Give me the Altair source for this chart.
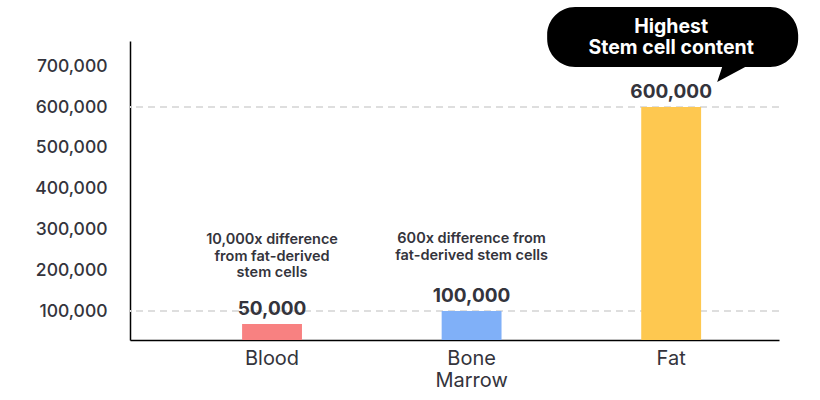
import altair as alt
import pandas as pd

categories = ["Blood", "Bone Marrow", "Fat"]
bar_values = [68000, 100000, 600000]
value_labels = ["50,000", "100,000", "600,000"]
bar_colors = ["#F88181", "#80B0F8", "#FEC850"]
y_ticks = [100000, 200000, 300000, 400000, 500000, 600000, 700000]
grid_values = [100000, 600000]
note_blood = ["10,000x difference", "from fat-derived", "stem cells"]
note_marrow = ["600x difference from", "fat-derived stem cells"]
bubble_text = ["Highest", "Stem cell content"]

df = pd.DataFrame({"cat": categories, "value": bar_values, "label": value_labels})
grid_df = pd.DataFrame({"value": grid_values})

FONT = "Inter"
TXT = "#34343c"

x = alt.X(
    "cat:N", sort=categories,
    scale=alt.Scale(paddingInner=0.7, paddingOuter=0.476, align=0.59),
    axis=alt.Axis(title=None, labelAngle=0, labelFontSize=20, labelFont=FONT,
                  labelColor=TXT, labelPadding=8, labelLineHeight=22, ticks=False,
                  domainColor="black", domainWidth=1.5,
                  labelExpr="split(datum.label, ' ')"),
)
y = alt.Y(
    "value:Q",
    scale=alt.Scale(domain=[29000, 762000], zero=False, nice=False),
    axis=alt.Axis(title=None, values=y_ticks, labelExpr="format(datum.value, ',')",
                  labelFontSize=17.5, labelFontWeight=500, labelFont=FONT,
                  labelColor=TXT, labelPadding=23,
                  ticks=False, grid=False, domainColor="black", domainWidth=1.5),
)

base = alt.Chart(df)

grid = alt.Chart(grid_df).mark_rule(strokeDash=[7, 5], color="#dedede", strokeWidth=2).encode(
    y=y
)

bars = base.mark_bar(clip=True).encode(
    x=x, y=y,
    color=alt.Color("cat:N", scale=alt.Scale(domain=categories, range=bar_colors), legend=None),
)

labels = base.mark_text(baseline="middle", dy=-15, fontSize=19, fontWeight=700,
                        font=FONT, color=TXT).encode(x=x, y=y, text="label:N")

blood_note = base.transform_filter(alt.datum.cat == "Blood").mark_text(
    text=note_blood, baseline="middle", dy=-84, fontSize=14.5, fontWeight=600,
    lineHeight=16.5, font=FONT, color=TXT).encode(x=x, y=y)

marrow_note = base.transform_filter(alt.datum.cat == "Bone Marrow").mark_text(
    text=note_marrow, baseline="middle", dy=-72, fontSize=14.5, fontWeight=600,
    lineHeight=16.5, font=FONT, color=TXT).encode(x=x, y=y)

BUBBLE = ("M-96,-100 L99,-100 A28,28 0 0 1 127,-72 L127,-68 A28,28 0 0 1 99,-40 "
          "L74,-40 L46,-25 L51,-40 L-96,-40 A28,28 0 0 1 -124,-68 L-124,-72 "
          "A28,28 0 0 1 -96,-100 Z")

bubble = base.transform_filter(alt.datum.cat == "Fat").mark_point(
    shape=BUBBLE, size=4, filled=True, color="black", opacity=1, strokeWidth=0
).encode(x=x, y=y)

bubble_txt = base.transform_filter(alt.datum.cat == "Fat").mark_text(
    text=bubble_text, baseline="middle", dy=-80, fontSize=19.5, fontWeight=700,
    lineHeight=21, font=FONT, color="white").encode(x=x, y=y)

chart = alt.layer(grid, bars, labels, blood_note, marrow_note, bubble, bubble_txt).properties(
    width=649, height=299,
    background="white",
    autosize=alt.AutoSizeParams(type="none"),
    padding={"left": 130, "top": 41, "right": 41, "bottom": 60},
).configure_view(stroke="transparent", strokeWidth=0)

chart.save("out.html", embed_options={"renderer": "svg", "actions": False})
